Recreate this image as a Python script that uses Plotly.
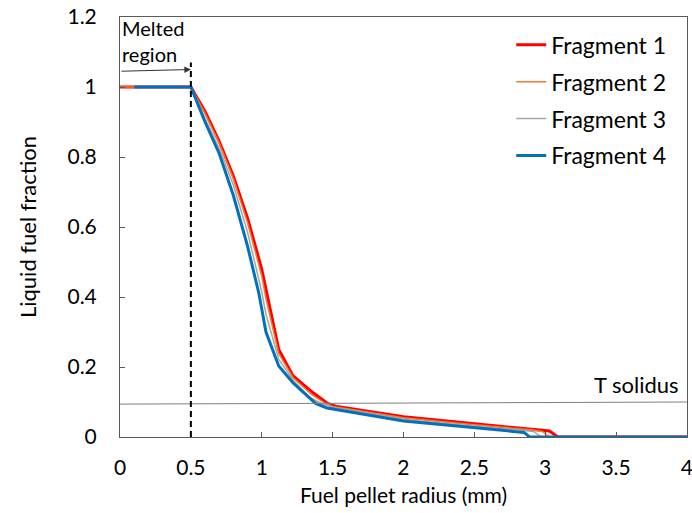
import plotly.graph_objects as go

# Liquid fuel fraction vs. radial position for four fuel fragments
frag1_r = [0, 0.5, 0.6, 0.7, 0.8, 0.9, 1.0, 1.035, 1.12, 1.22, 1.36, 1.46, 1.52, 2.0, 2.5, 2.91, 3.03, 3.09, 4.0]
frag1_f = [1, 1, 0.93, 0.845, 0.745, 0.625, 0.48, 0.415, 0.25, 0.175, 0.127, 0.097, 0.088, 0.058, 0.038, 0.023, 0.017, 0, 0]

frag2_r = [0, 0.5, 0.6, 0.7, 0.8, 0.9, 1.0, 1.03, 1.12, 1.22, 1.35, 1.44, 1.5, 2.0, 2.5, 2.9, 2.98, 3.03, 4.0]
frag2_f = [1, 1, 0.925, 0.84, 0.738, 0.612, 0.46, 0.395, 0.238, 0.17, 0.122, 0.098, 0.087, 0.055, 0.035, 0.021, 0.016, 0, 0]

frag3_r = [0.1, 0.5, 0.6, 0.7, 0.8, 0.9, 1.0, 1.03, 1.12, 1.22, 1.34, 1.42, 1.5, 2.0, 2.5, 2.88, 2.92, 2.97, 4.0]
frag3_f = [1, 1, 0.91, 0.825, 0.72, 0.585, 0.415, 0.35, 0.222, 0.163, 0.113, 0.096, 0.085, 0.051, 0.031, 0.018, 0.016, 0, 0]

frag4_r = [0.1, 0.5, 0.6, 0.7, 0.8, 0.9, 0.98, 1.03, 1.12, 1.22, 1.38, 1.46, 2.0, 2.5, 2.85, 2.89, 4.0]
frag4_f = [1, 1, 0.9, 0.81, 0.69, 0.545, 0.41, 0.30, 0.203, 0.155, 0.096, 0.083, 0.046, 0.027, 0.013, 0, 0]

series = [
    ("Fragment 1", frag1_r, frag1_f, "#FF0000", 3),
    ("Fragment 2", frag2_r, frag2_f, "#ED7D31", 1.5),
    ("Fragment 3", frag3_r, frag3_f, "#A5A5A5", 1.5),
    ("Fragment 4", frag4_r, frag4_f, "#0070C0", 3),
]

# Melt front position and solidus level
melt_radius = 0.5
melt_marker_top = 1.07
solidus_start, solidus_end = 0.094, 0.100

x_ticks = [0, 0.5, 1, 1.5, 2, 2.5, 3, 3.5, 4]
y_ticks = [0, 0.2, 0.4, 0.6, 0.8, 1, 1.2]

FONT = "Lato"

fig = go.Figure()
for name, r, f, color, width in series:
    fig.add_trace(go.Scatter(
        x=r, y=f, mode="lines", name=name, legendgroup=name,
        line=dict(color=color, width=width),
    ))

# Solidus temperature reference line
fig.add_shape(type="line", x0=0, x1=4, y0=solidus_start, y1=solidus_end,
              xref="x", yref="y", line=dict(color="#7F7F7F", width=1))
fig.add_annotation(x=3.96, y=0.15, xref="x", yref="y", text="T solidus",
                   showarrow=False, xanchor="right",
                   font=dict(family=FONT, size=22, color="black"))

# Dashed marker at the melt front
fig.add_shape(type="line", x0=melt_radius, x1=melt_radius, y0=0, y1=melt_marker_top,
              xref="x", yref="y", line=dict(color="black", width=2, dash="6px,4px"))

# Arrow spanning the melted region
fig.add_annotation(x=melt_radius, y=1.05, ax=0, ay=1.045, xref="x", yref="y",
                   axref="x", ayref="y", text="", showarrow=True,
                   arrowhead=2, arrowsize=1.3, arrowwidth=1, arrowcolor="#333333")
fig.add_annotation(x=0.0, y=1.17, xref="x", yref="y", text="Melted",
                   showarrow=False, xanchor="left",
                   font=dict(family=FONT, size=20, color="black"))
fig.add_annotation(x=0.0, y=1.095, xref="x", yref="y", text="region",
                   showarrow=False, xanchor="left",
                   font=dict(family=FONT, size=20, color="black"))

axis_common = dict(
    showline=True, mirror=True, linecolor="#595959", linewidth=1,
    ticks="inside", ticklen=5, tickcolor="#595959", showgrid=False, zeroline=False,
    tickfont=dict(family=FONT, size=21, color="black"),
    ticklabeloverflow="allow", automargin=False,
)

fig.update_xaxes(range=[0, 4.0005], tickvals=x_ticks, ticklabelstandoff=12,
                 title=dict(text="Fuel pellet radius (mm)", standoff=10,
                            font=dict(family=FONT, size=21, color="black")),
                 **axis_common)
fig.update_yaxes(range=[0, 1.2], tickvals=y_ticks, ticklabelstandoff=18,
                 title=dict(text="Liquid fuel fraction", standoff=24,
                            font=dict(family=FONT, size=22, color="black")),
                 **axis_common)

fig.update_layout(
    width=692, height=513,
    margin=dict(l=120, r=5, t=17, b=76),
    plot_bgcolor="white", paper_bgcolor="white",
    showlegend=True,
    legend=dict(x=0.69, y=0.985, xanchor="left", yanchor="top",
                bgcolor="rgba(0,0,0,0)", tracegroupgap=4, itemwidth=30,
                font=dict(family=FONT, size=23, color="black")),
)

fig.write_html("out.html")
